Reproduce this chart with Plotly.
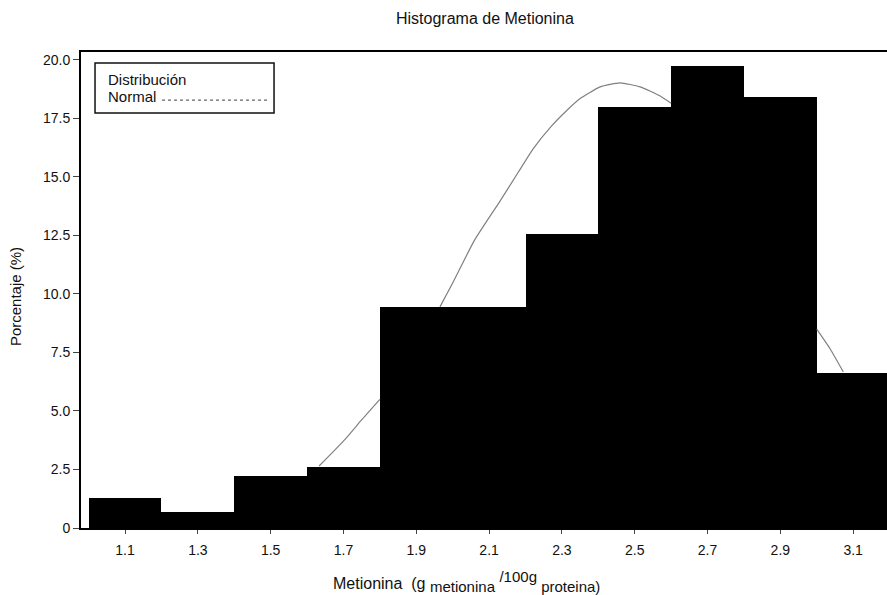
import plotly.graph_objects as go

# ---- data ----
bin_centers = [1.1, 1.3, 1.5, 1.7, 1.9, 2.1, 2.3, 2.5, 2.7, 2.9, 3.1]
percentages = [1.28, 0.68, 2.22, 2.61, 9.45, 9.45, 12.56, 17.99, 19.74, 18.42, 6.62]
bin_width = 0.2

# visible parts of the fitted normal curve (hidden parts lie behind the bars)
curve_x = [1.633, 1.705, 1.752, 1.800, None,
           1.965, 2.001, 2.060, 2.130, 2.180, 2.221, 2.270, 2.314, 2.350, 2.405, 2.460,
           2.515, 2.570, 2.600, None,
           3.000, 3.037, 3.073]
curve_y = [2.65, 3.80, 4.66, 5.50, None,
           9.45, 10.50, 12.30, 13.97, 15.20, 16.20, 17.15, 17.85, 18.35, 18.85, 19.02,
           18.85, 18.46, 18.15, None,
           8.50, 7.65, 6.67]

x_tick_vals = [1.1, 1.3, 1.5, 1.7, 1.9, 2.1, 2.3, 2.5, 2.7, 2.9, 3.1]
x_tick_text = ["1.1", "1.3", "1.5", "1.7", "1.9", "2.1", "2.3", "2.5", "2.7", "2.9", "3.1"]
y_tick_vals = [0, 2.5, 5.0, 7.5, 10.0, 12.5, 15.0, 17.5, 20.0]
y_tick_text = ["0", "2.5", "5.0", "7.5", "10.0", "12.5", "15.0", "17.5", "20.0"]

FONT = "Liberation Sans, Arial, sans-serif"
TXT = "#111"

fig = go.Figure()
fig.add_trace(go.Bar(
    x=bin_centers, y=percentages, width=[bin_width] * len(bin_centers),
    marker=dict(color="#000000", line=dict(width=0)),
    name="Porcentaje", showlegend=False,
))
fig.add_trace(go.Scatter(
    x=curve_x, y=curve_y, mode="lines",
    line=dict(color="#808080", width=1.2, shape="spline", smoothing=0.5),
    connectgaps=False, name="Normal", showlegend=False,
))

fig.update_layout(
    width=887, height=595,
    margin=dict(l=81, r=0, t=52, b=67),
    paper_bgcolor="white", plot_bgcolor="white",
    font=dict(family=FONT, size=14, color=TXT),
    bargap=0,
    showlegend=False,
    xaxis=dict(
        range=[0.979, 3.193], tickvals=x_tick_vals, ticktext=x_tick_text,
        ticks="outside", ticklen=4, tickcolor="#444", ticklabelstandoff=4,
        showgrid=False, zeroline=False, automargin=False,
        showline=True, linecolor="#000", linewidth=2, mirror=True,
        tickfont=dict(size=14, color=TXT),
    ),
    yaxis=dict(
        range=[0, 20.34], tickvals=y_tick_vals, ticktext=y_tick_text,
        ticks="outside", ticklen=6, tickcolor="#444",
        showgrid=False, zeroline=False, automargin=False,
        showline=True, linecolor="#000", linewidth=2, mirror=False,
        tickfont=dict(size=14, color=TXT),
    ),
)

# chart title and axis titles
fig.add_annotation(xref="paper", yref="paper", x=0.501, y=1.071,
                   text="Histograma de Metionina", showarrow=False,
                   xanchor="center", yanchor="middle", font=dict(size=16, color=TXT))
fig.add_annotation(xref="paper", yref="paper", x=0.478, y=-0.113,
                   text=("Metionina  (g <sub><span style='font-size:15px'>metionina</span></sub>"
                         " <sup><span style='font-size:15px'>/100g</span></sup>"
                         "<sub><span style='font-size:15px'> proteina)</span></sub>"),
                   showarrow=False, xanchor="center", yanchor="middle",
                   font=dict(size=16, color=TXT))
fig.add_annotation(xref="paper", yref="paper", x=-0.082, y=0.487,
                   text="Porcentaje (%)", showarrow=False, textangle=-90,
                   xanchor="center", yanchor="middle", font=dict(size=15, color=TXT))

# manual legend box (text then line sample, as in the reference)
fig.add_shape(type="rect", xref="paper", yref="paper",
              x0=0.0174, x1=0.2395, y0=0.872, y1=0.977,
              line=dict(color="#111", width=1.5), fillcolor="white")
fig.add_annotation(xref="paper", yref="paper", x=0.031, y=0.943,
                   text="Distribución", showarrow=False, xanchor="left", yanchor="middle",
                   font=dict(size=15, color=TXT))
fig.add_annotation(xref="paper", yref="paper", x=0.031, y=0.907,
                   text="Normal", showarrow=False, xanchor="left", yanchor="middle",
                   font=dict(size=15, color=TXT))
fig.add_shape(type="line", xref="paper", yref="paper",
              x0=0.1005, x1=0.2308, y0=0.899, y1=0.899,
              line=dict(color="#666", width=1.2, dash="dot"))

fig.write_html(
    "out.html",
    config={"displayModeBar": False},
    post_script="document.body.style.margin='0';document.body.style.overflow='hidden';",
)
